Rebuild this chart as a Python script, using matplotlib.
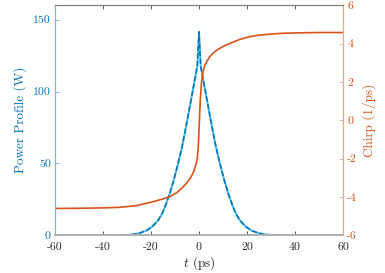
import matplotlib
matplotlib.use("Agg")
import matplotlib.pyplot as plt
import numpy as np

plt.rcParams['font.family'] = 'serif'
plt.rcParams['font.serif'] = ['cmr10']
plt.rcParams['mathtext.fontset'] = 'cm'
plt.rcParams['axes.unicode_minus'] = False
plt.rcParams['axes.formatter.use_mathtext'] = False

# Power profile (W) vs time (ps)
t_power = [-60, -40, -35, -32, -28, -25, -22, -19.5, -17, -15.3, -14, -12.2, -10.5, -8.7,
           -7, -5.7, -4.5, -3, -2, -0.95, -0.7, 0.0, 0.7, 0.95, 2, 3, 4.5, 5.7, 7,
           8.7, 10.5, 12.2, 14, 15.3, 17, 19.5, 22, 25, 28, 32, 35, 40, 60]
power = [0, 0, 0.05, 0.12, 0.5, 1.4, 3.2, 6.0, 10.5, 15.3, 20.5, 29, 38.5, 50,
         62, 73, 83.5, 97, 106, 115.5, 118, 141.5, 118, 115.5, 106, 97, 83.5, 73, 62,
         50, 38.5, 29, 20.5, 15.3, 10.5, 6.0, 3.2, 1.4, 0.5, 0.12, 0.05, 0, 0]

# Chirp (1/ps) vs time (ps)
t_chirp = [-60, -50, -40, -33, -26, -19.2, -15.5, -12.2, -9, -7, -5.25, -3.5, -2.2,
           -1.1, -0.7, -0.4, -0.15, 0.0, 0.3, 0.6, 1.0, 1.67, 2.4, 3.3, 4.5, 6,
           7.3, 8.6, 10.5, 12.8, 14.2, 17, 21, 25, 30, 35, 40, 50, 60]
chirp = [-4.60, -4.59, -4.57, -4.54, -4.45, -4.25, -4.12, -3.99, -3.75, -3.52, -3.29, -3.0, -2.68,
         -2.24, -1.95, -1.55, -1.0, -0.5, 0.4, 1.2, 1.93, 2.55, 2.85, 3.08, 3.32, 3.52,
         3.65, 3.75, 3.88, 4.0, 4.08, 4.22, 4.36, 4.44, 4.50, 4.54, 4.56, 4.58, 4.58]

xticks = [-60, -40, -20, 0, 20, 40, 60]
yticks_left = [0, 50, 100, 150]
yticks_right = [-6, -4, -2, 0, 2, 4, 6]

blue = '#0072BD'
cyan = '#4DBEEE'
orange = '#D95319'

fig = plt.figure(figsize=(3.85, 2.73), dpi=100)
ax = fig.add_axes([55/385, 1-235.3/273, (343-55)/385, (235.3-5.3)/273])
ax2 = ax.twinx()

ax.plot(t_power, power, color=cyan, lw=1.4)
ax.plot(t_power, power, color=blue, lw=1.1, ls=(0, (3.5, 1.5)))
ax2.plot(t_chirp, chirp, color=orange, lw=1.2)

ax.set_xlim(-60, 60)
ax.set_ylim(0, 160)
ax2.set_ylim(-6, 6)
ax.set_xticks(xticks)
ax.set_yticks(yticks_left)
ax2.set_yticks(yticks_right)

fs = 8.5
ax.tick_params(axis='x', direction='in', length=3, width=0.6, color='#404040',
               labelsize=fs, labelcolor='#262626', top=True, pad=5)
ax.tick_params(axis='y', direction='in', length=3, width=0.6, color='#7fb2dc',
               labelsize=fs, labelcolor=blue, pad=3)
ax2.tick_params(axis='y', direction='in', length=3, width=0.6, color='#eca684',
                labelsize=fs, labelcolor=orange, pad=3)

for a in (ax, ax2):
    a.spines['top'].set_color('#7f7f7f')
    a.spines['bottom'].set_color('#b0b0b0')
    a.spines['bottom'].set_linewidth(1.2)
    a.spines['top'].set_linewidth(0.8)
    a.spines['left'].set_color('#7fb2dc')
    a.spines['right'].set_color('#eca684')
    a.spines['left'].set_linewidth(0.8)
    a.spines['right'].set_linewidth(0.8)

ax.set_xlabel('$t$ (ps)', fontsize=9.5, color='#262626', labelpad=2)
ax.set_ylabel('Power Profile (W)', fontsize=9.5, color=blue, labelpad=4)
ax2.set_ylabel('Chirp (1/ps)', fontsize=9.5, color=orange, labelpad=4, rotation=90)

fig.savefig('out.png', dpi=100)
